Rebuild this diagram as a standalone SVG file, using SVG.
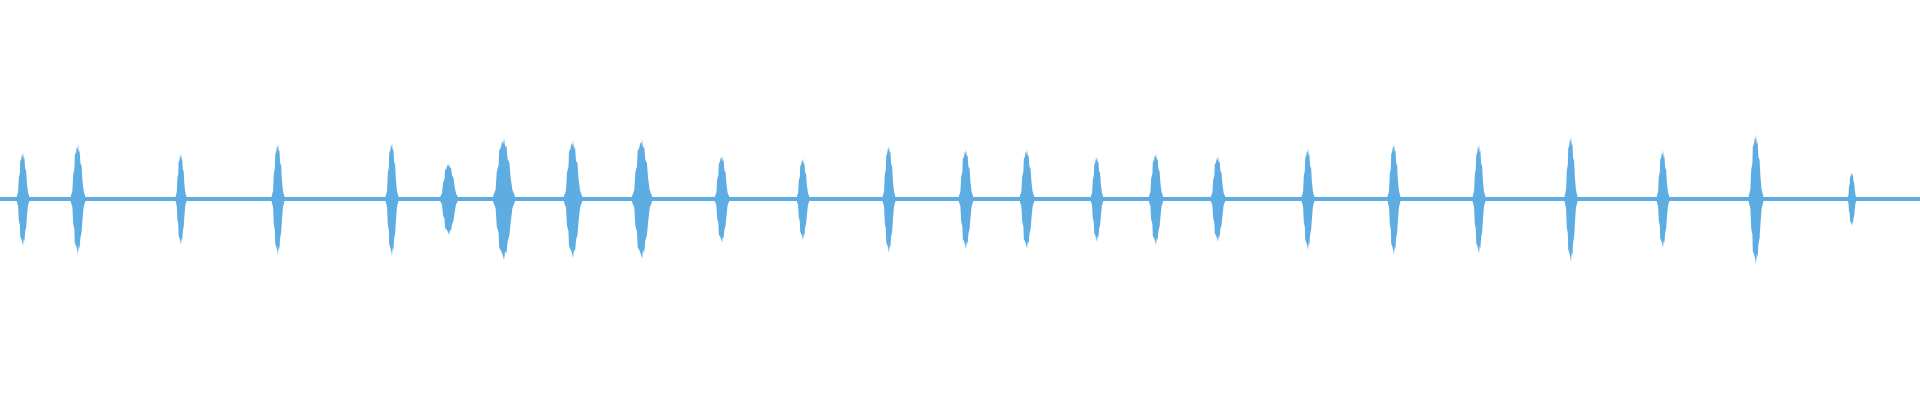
<svg xmlns="http://www.w3.org/2000/svg" xmlns:xlink="http://www.w3.org/1999/xlink" width="1920" height="400" viewBox="0 0 1920 400">
<style>.w{fill:#5DADE2}</style>
<defs>
<path id="b" d="M-1,0 L-0.7,-0.15 L-0.6,-0.45 L-0.45,-0.55 L-0.4,-0.8 L-0.25,-0.85 L-0.15,-0.95 L-0.05,-0.9 L0,-1 L0.1,-0.85 L0.2,-0.88 L0.3,-0.65 L0.45,-0.6 L0.55,-0.35 L0.7,-0.15 L1,0 L0.7,0.15 L0.55,0.4 L0.45,0.6 L0.3,0.7 L0.2,0.9 L0.1,0.85 L0,1 L-0.1,0.92 L-0.25,0.85 L-0.4,0.8 L-0.45,0.55 L-0.6,0.45 L-0.7,0.15 Z"/>
</defs>
<rect width="1920" height="400" fill="#fff"/>
<g id="waveform" class="w">
<rect x="0" y="197" width="1920" height="4"/>
<use xlink:href="#b" transform="translate(23,199) scale(7,47)"/>
<use xlink:href="#b" transform="translate(78,199) scale(8,55)"/>
<use xlink:href="#b" transform="translate(181,199) scale(6,46)"/>
<use xlink:href="#b" transform="translate(278,199) scale(7,56)"/>
<use xlink:href="#b" transform="translate(392,199) scale(7,57)"/>
<use xlink:href="#b" transform="translate(449,199) scale(10,36)"/>
<use xlink:href="#b" transform="translate(504,199) scale(12,61)"/>
<use xlink:href="#b" transform="translate(573,199) scale(10,59)"/>
<use xlink:href="#b" transform="translate(642,199) scale(11,60)"/>
<use xlink:href="#b" transform="translate(722,199) scale(8,44)"/>
<use xlink:href="#b" transform="translate(803,199) scale(7,41)"/>
<use xlink:href="#b" transform="translate(889,199) scale(7,54)"/>
<use xlink:href="#b" transform="translate(966,199) scale(8,50)"/>
<use xlink:href="#b" transform="translate(1027,199) scale(8,50)"/>
<use xlink:href="#b" transform="translate(1097,199) scale(7,43)"/>
<use xlink:href="#b" transform="translate(1156,199) scale(8,46)"/>
<use xlink:href="#b" transform="translate(1218,199) scale(8,43)"/>
<use xlink:href="#b" transform="translate(1308,199) scale(7,51)"/>
<use xlink:href="#b" transform="translate(1394,199) scale(7,56)"/>
<use xlink:href="#b" transform="translate(1479,199) scale(7,55)"/>
<use xlink:href="#b" transform="translate(1571,199) scale(7,63)"/>
<use xlink:href="#b" transform="translate(1663,199) scale(7,49)"/>
<use xlink:href="#b" transform="translate(1756,199) scale(8,65)"/>
<use xlink:href="#b" transform="translate(1852,199) scale(5,27)"/>
</g>
</svg>
